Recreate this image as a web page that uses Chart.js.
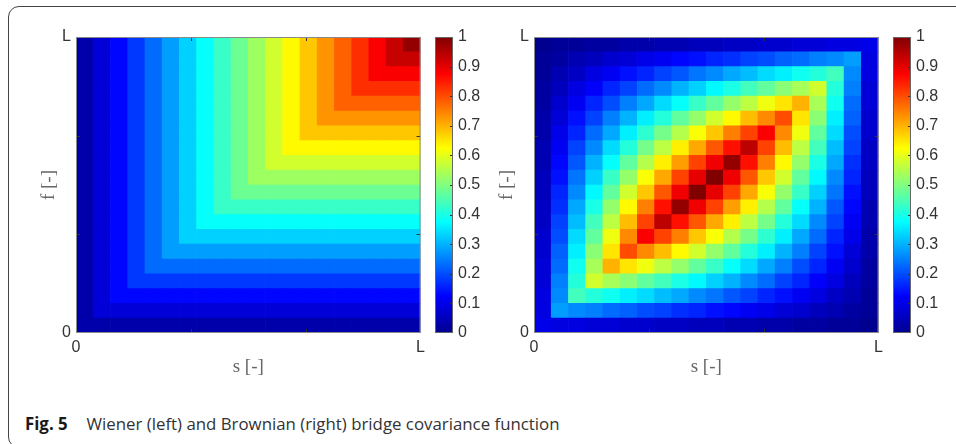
<!DOCTYPE html>
<html>
<head>
<meta charset="utf-8">
<title>Wiener and Brownian bridge covariance</title>
<script src="https://cdn.jsdelivr.net/npm/chart.js@4.4.0/dist/chart.umd.min.js"></script>
<style>
	body { margin: 0; width: 956px; height: 444px; overflow: hidden; background: #fff; position: relative; }
	.frame { position: absolute; left: 8px; top: 6px; width: 1000px; height: 440px; border: 1.5px solid #444; border-radius: 11px; }
	canvas { position: absolute; top: 0; }
	.caption { position: absolute; left: 25px; top: 414px; line-height: 20px; font-family: "Open Sans", sans-serif; font-size: 17px; color: #333; white-space: nowrap; transform: scaleX(0.99); transform-origin: left center; }
	.caption b { color: #1a1a1a; margin-right: 19px; }
</style>
</head>
<body>
<div class="frame"></div>
<canvas id="wienerMap" width="430" height="400" style="left:0px"></canvas>
<canvas id="wienerBar" width="85" height="400" style="left:400px"></canvas>
<canvas id="bridgeMap" width="430" height="400" style="left:458px"></canvas>
<canvas id="bridgeBar" width="85" height="400" style="left:858px"></canvas>
<div class="caption"><b>Fig. 5</b>Wiener (left) and Brownian (right) bridge covariance function</div>

<script>
// cell edges along s and t, as fractions of L
const gridEdges = [0, 0.05, 0.1, 0.15, 0.2, 0.25, 0.3, 0.35, 0.4, 0.45, 0.5, 0.55, 0.6, 0.65, 0.7, 0.75, 0.8, 0.85, 0.9, 0.95, 1];
const axisTicks = [0, 1 / 3, 2 / 3, 1];
const axisTickLabels = ["0", "", "", "L"];
const colorTicks = [0, 0.1, 0.2, 0.3, 0.4, 0.5, 0.6, 0.7, 0.8, 0.9, 1];

// rows run from t = 0 (bottom) up to t = L, columns from s = 0 to s = L
const wienerValues = [
	[0.03, 0.03, 0.03, 0.03, 0.03, 0.03, 0.03, 0.03, 0.03, 0.03, 0.03, 0.03, 0.03, 0.03, 0.03, 0.03, 0.03, 0.03, 0.03, 0.03],
	[0.03, 0.08, 0.08, 0.08, 0.08, 0.08, 0.08, 0.08, 0.08, 0.08, 0.08, 0.08, 0.08, 0.08, 0.08, 0.08, 0.08, 0.08, 0.08, 0.08],
	[0.03, 0.08, 0.13, 0.13, 0.13, 0.13, 0.13, 0.13, 0.13, 0.13, 0.13, 0.13, 0.13, 0.13, 0.13, 0.13, 0.13, 0.13, 0.13, 0.13],
	[0.03, 0.08, 0.13, 0.18, 0.18, 0.18, 0.18, 0.18, 0.18, 0.18, 0.18, 0.18, 0.18, 0.18, 0.18, 0.18, 0.18, 0.18, 0.18, 0.18],
	[0.03, 0.08, 0.13, 0.18, 0.23, 0.23, 0.23, 0.23, 0.23, 0.23, 0.23, 0.23, 0.23, 0.23, 0.23, 0.23, 0.23, 0.23, 0.23, 0.23],
	[0.03, 0.08, 0.13, 0.18, 0.23, 0.28, 0.28, 0.28, 0.28, 0.28, 0.28, 0.28, 0.28, 0.28, 0.28, 0.28, 0.28, 0.28, 0.28, 0.28],
	[0.03, 0.08, 0.13, 0.18, 0.23, 0.28, 0.33, 0.33, 0.33, 0.33, 0.33, 0.33, 0.33, 0.33, 0.33, 0.33, 0.33, 0.33, 0.33, 0.33],
	[0.03, 0.08, 0.13, 0.18, 0.23, 0.28, 0.33, 0.38, 0.38, 0.38, 0.38, 0.38, 0.38, 0.38, 0.38, 0.38, 0.38, 0.38, 0.38, 0.38],
	[0.03, 0.08, 0.13, 0.18, 0.23, 0.28, 0.33, 0.38, 0.43, 0.43, 0.43, 0.43, 0.43, 0.43, 0.43, 0.43, 0.43, 0.43, 0.43, 0.43],
	[0.03, 0.08, 0.13, 0.18, 0.23, 0.28, 0.33, 0.38, 0.43, 0.48, 0.48, 0.48, 0.48, 0.48, 0.48, 0.48, 0.48, 0.48, 0.48, 0.48],
	[0.03, 0.08, 0.13, 0.18, 0.23, 0.28, 0.33, 0.38, 0.43, 0.48, 0.53, 0.53, 0.53, 0.53, 0.53, 0.53, 0.53, 0.53, 0.53, 0.53],
	[0.03, 0.08, 0.13, 0.18, 0.23, 0.28, 0.33, 0.38, 0.43, 0.48, 0.53, 0.58, 0.58, 0.58, 0.58, 0.58, 0.58, 0.58, 0.58, 0.58],
	[0.03, 0.08, 0.13, 0.18, 0.23, 0.28, 0.33, 0.38, 0.43, 0.48, 0.53, 0.58, 0.63, 0.63, 0.63, 0.63, 0.63, 0.63, 0.63, 0.63],
	[0.03, 0.08, 0.13, 0.18, 0.23, 0.28, 0.33, 0.38, 0.43, 0.48, 0.53, 0.58, 0.63, 0.68, 0.68, 0.68, 0.68, 0.68, 0.68, 0.68],
	[0.03, 0.08, 0.13, 0.18, 0.23, 0.28, 0.33, 0.38, 0.43, 0.48, 0.53, 0.58, 0.63, 0.68, 0.73, 0.73, 0.73, 0.73, 0.73, 0.73],
	[0.03, 0.08, 0.13, 0.18, 0.23, 0.28, 0.33, 0.38, 0.43, 0.48, 0.53, 0.58, 0.63, 0.68, 0.73, 0.78, 0.78, 0.78, 0.78, 0.78],
	[0.03, 0.08, 0.13, 0.18, 0.23, 0.28, 0.33, 0.38, 0.43, 0.48, 0.53, 0.58, 0.63, 0.68, 0.73, 0.78, 0.83, 0.83, 0.83, 0.83],
	[0.03, 0.08, 0.13, 0.18, 0.23, 0.28, 0.33, 0.38, 0.43, 0.48, 0.53, 0.58, 0.63, 0.68, 0.73, 0.78, 0.83, 0.88, 0.88, 0.88],
	[0.03, 0.08, 0.13, 0.18, 0.23, 0.28, 0.33, 0.38, 0.43, 0.48, 0.53, 0.58, 0.63, 0.68, 0.73, 0.78, 0.83, 0.88, 0.93, 0.93],
	[0.03, 0.08, 0.13, 0.18, 0.23, 0.28, 0.33, 0.38, 0.43, 0.48, 0.53, 0.58, 0.63, 0.68, 0.73, 0.78, 0.83, 0.88, 0.93, 0.98]
];

const bridgeValues = [
	[0.10, 0.09, 0.09, 0.08, 0.08, 0.07, 0.07, 0.06, 0.06, 0.05, 0.05, 0.04, 0.04, 0.03, 0.03, 0.02, 0.02, 0.01, 0.01, 0.00],
	[0.09, 0.28, 0.26, 0.25, 0.23, 0.22, 0.20, 0.19, 0.17, 0.16, 0.14, 0.13, 0.11, 0.10, 0.08, 0.07, 0.05, 0.04, 0.02, 0.01],
	[0.09, 0.26, 0.44, 0.41, 0.39, 0.36, 0.34, 0.31, 0.29, 0.26, 0.24, 0.21, 0.19, 0.16, 0.14, 0.11, 0.09, 0.06, 0.04, 0.01],
	[0.08, 0.25, 0.41, 0.58, 0.54, 0.51, 0.47, 0.44, 0.40, 0.37, 0.33, 0.30, 0.26, 0.23, 0.19, 0.16, 0.12, 0.09, 0.05, 0.02],
	[0.08, 0.23, 0.39, 0.54, 0.70, 0.65, 0.61, 0.56, 0.52, 0.47, 0.43, 0.38, 0.34, 0.29, 0.25, 0.20, 0.16, 0.11, 0.07, 0.02],
	[0.07, 0.22, 0.36, 0.51, 0.65, 0.80, 0.74, 0.69, 0.63, 0.58, 0.52, 0.47, 0.41, 0.36, 0.30, 0.25, 0.19, 0.14, 0.08, 0.03],
	[0.07, 0.20, 0.34, 0.47, 0.61, 0.74, 0.88, 0.81, 0.75, 0.68, 0.62, 0.55, 0.49, 0.42, 0.36, 0.29, 0.23, 0.16, 0.10, 0.03],
	[0.06, 0.19, 0.31, 0.44, 0.56, 0.69, 0.81, 0.94, 0.86, 0.79, 0.71, 0.64, 0.56, 0.49, 0.41, 0.34, 0.26, 0.19, 0.11, 0.04],
	[0.06, 0.17, 0.29, 0.40, 0.52, 0.63, 0.75, 0.86, 0.98, 0.89, 0.81, 0.72, 0.64, 0.55, 0.47, 0.38, 0.30, 0.21, 0.13, 0.04],
	[0.05, 0.16, 0.26, 0.37, 0.47, 0.58, 0.68, 0.79, 0.89, 1.00, 0.90, 0.81, 0.71, 0.62, 0.52, 0.43, 0.33, 0.24, 0.14, 0.05],
	[0.05, 0.14, 0.24, 0.33, 0.43, 0.52, 0.62, 0.71, 0.81, 0.90, 1.00, 0.89, 0.79, 0.68, 0.58, 0.47, 0.37, 0.26, 0.16, 0.05],
	[0.04, 0.13, 0.21, 0.30, 0.38, 0.47, 0.55, 0.64, 0.72, 0.81, 0.89, 0.98, 0.86, 0.75, 0.63, 0.52, 0.40, 0.29, 0.17, 0.06],
	[0.04, 0.11, 0.19, 0.26, 0.34, 0.41, 0.49, 0.56, 0.64, 0.71, 0.79, 0.86, 0.94, 0.81, 0.69, 0.56, 0.44, 0.31, 0.19, 0.06],
	[0.03, 0.10, 0.16, 0.23, 0.29, 0.36, 0.42, 0.49, 0.55, 0.62, 0.68, 0.75, 0.81, 0.88, 0.74, 0.61, 0.47, 0.34, 0.20, 0.07],
	[0.03, 0.08, 0.14, 0.19, 0.25, 0.30, 0.36, 0.41, 0.47, 0.52, 0.58, 0.63, 0.69, 0.74, 0.80, 0.65, 0.51, 0.36, 0.22, 0.07],
	[0.02, 0.07, 0.11, 0.16, 0.20, 0.25, 0.29, 0.34, 0.38, 0.43, 0.47, 0.52, 0.56, 0.61, 0.65, 0.70, 0.54, 0.39, 0.23, 0.08],
	[0.02, 0.05, 0.09, 0.12, 0.16, 0.19, 0.23, 0.26, 0.30, 0.33, 0.37, 0.40, 0.44, 0.47, 0.51, 0.54, 0.58, 0.41, 0.25, 0.08],
	[0.01, 0.04, 0.06, 0.09, 0.11, 0.14, 0.16, 0.19, 0.21, 0.24, 0.26, 0.29, 0.31, 0.34, 0.36, 0.39, 0.41, 0.44, 0.26, 0.09],
	[0.01, 0.02, 0.04, 0.05, 0.07, 0.08, 0.10, 0.11, 0.13, 0.14, 0.16, 0.17, 0.19, 0.20, 0.22, 0.23, 0.25, 0.26, 0.28, 0.09],
	[0.00, 0.01, 0.01, 0.02, 0.02, 0.03, 0.03, 0.04, 0.04, 0.05, 0.05, 0.06, 0.06, 0.07, 0.07, 0.08, 0.08, 0.09, 0.09, 0.10]
];

// MATLAB style jet colormap
const jetStops = [
	[0, [0, 0, 143]],
	[0.125, [0, 0, 255]],
	[0.375, [0, 255, 255]],
	[0.625, [255, 255, 0]],
	[0.875, [255, 0, 0]],
	[1, [128, 0, 0]]
];

function jet(v) {
	for (let k = 1; k < jetStops.length; k++) {
		const [p1, c1] = jetStops[k];
		if (v <= p1 || k === jetStops.length - 1) {
			const [p0, c0] = jetStops[k - 1];
			const f = Math.min(1, Math.max(0, (v - p0) / (p1 - p0)));
			const c = c0.map((a, n) => Math.round(a + (c1[n] - a) * f));
			return `rgb(${c[0]}, ${c[1]}, ${c[2]})`;
		}
	}
}

Chart.defaults.font.family = "'Liberation Sans', Arial, sans-serif";
Chart.defaults.color = "#333";

const tickFont = { family: "'Liberation Sans', Arial, sans-serif", size: 16 };
const titleFont = { family: "'Liberation Serif', 'Times New Roman', serif", size: 19 };

// box round the map plus the short inward tick marks
const mapFrame = {
	id: "mapFrame",
	afterDatasetsDraw(chart) {
		const { ctx, chartArea: a, scales } = chart;
		ctx.save();
		ctx.strokeStyle = "#333";
		ctx.lineWidth = 1;
		ctx.beginPath();
		axisTicks.slice(1, -1).forEach((t) => {
			const x = Math.round(scales.x.getPixelForValue(t)) + 0.5;
			const y = Math.round(scales.y.getPixelForValue(t)) + 0.5;
			ctx.moveTo(x, a.bottom); ctx.lineTo(x, a.bottom - 4);
			ctx.moveTo(x, a.top); ctx.lineTo(x, a.top + 4);
			ctx.moveTo(a.left, y); ctx.lineTo(a.left + 4, y);
			ctx.moveTo(a.right, y); ctx.lineTo(a.right - 4, y);
		});
		ctx.stroke();
		ctx.strokeStyle = "#8a8a8a";
		ctx.strokeRect(a.left + 0.5, a.top + 0.5, a.right - a.left - 1, a.bottom - a.top - 1);
		ctx.restore();
	}
};

const barFrame = {
	id: "barFrame",
	afterDatasetsDraw(chart) {
		const { ctx, chartArea: a, scales } = chart;
		ctx.save();
		ctx.strokeStyle = "#333";
		ctx.lineWidth = 1;
		ctx.beginPath();
		colorTicks.slice(1, -1).forEach((t) => {
			const y = Math.round(scales.y.getPixelForValue(t)) + 0.5;
			ctx.moveTo(a.right, y); ctx.lineTo(a.right - 3, y);
		});
		ctx.stroke();
		ctx.strokeStyle = "#666";
		ctx.strokeRect(a.left + 0.5, a.top + 0.5, a.right - a.left - 1, a.bottom - a.top - 1);
		ctx.restore();
	}
};

function heatmapDatasets(values) {
	return values.map((row, j) => ({
		data: row.map((v, i) => ({
			x: (gridEdges[i] + gridEdges[i + 1]) / 2,
			y: [gridEdges[j], gridEdges[j + 1]]
		})),
		backgroundColor: row.map(jet),
		borderWidth: 0,
		grouped: false,
		barPercentage: 1,
		categoryPercentage: 1
	}));
}

function drawMap(id, values) {
	return new Chart(document.getElementById(id), {
		type: "bar",
		data: { datasets: heatmapDatasets(values) },
		options: {
			responsive: false,
			animation: false,
			layout: { padding: { left: 0, right: 8, top: 37, bottom: 0 } },
			plugins: { legend: { display: false }, tooltip: { enabled: false } },
			scales: {
				x: {
					type: "linear",
					min: 0,
					max: 1,
					offset: false,
					afterBuildTicks: (s) => { s.ticks = axisTicks.map((v) => ({ value: v })); },
					afterFit: (s) => { s.height = 67; },
					grid: { display: false, drawTicks: false },
					border: { display: false },
					ticks: {
						autoSkip: false,
						maxRotation: 0,
						padding: 5,
						color: "#333",
						font: tickFont,
						callback: (v, i) => axisTickLabels[i]
					},
					title: {
						display: true,
						text: "s [-]",
						color: "#666",
						font: titleFont,
						padding: { top: 0, bottom: 22 }
					}
				},
				y: {
					type: "linear",
					min: 0,
					max: 1,
					afterBuildTicks: (s) => { s.ticks = axisTicks.map((v) => ({ value: v })); },
					afterFit: (s) => { s.width = 76; },
					grid: { display: false, drawTicks: false },
					border: { display: false },
					ticks: {
						autoSkip: false,
						padding: 5,
						color: "#333",
						font: tickFont,
						callback: (v, i) => axisTickLabels[i]
					},
					title: {
						display: true,
						text: "f [-]",
						color: "#666",
						font: titleFont,
						padding: { top: 38, bottom: 0 }
					}
				}
			}
		},
		plugins: [mapFrame]
	});
}

function jetGradient(context) {
	const area = context.chart.chartArea;
	if (!area) return null;
	const g = context.chart.ctx.createLinearGradient(0, area.bottom, 0, area.top);
	jetStops.forEach(([p, c]) => g.addColorStop(p, `rgb(${c[0]}, ${c[1]}, ${c[2]})`));
	return g;
}

function drawColorbar(id) {
	return new Chart(document.getElementById(id), {
		type: "bar",
		data: {
			labels: [""],
			datasets: [{
				data: [[0, 1]],
				backgroundColor: jetGradient,
				borderWidth: 0,
				barPercentage: 1,
				categoryPercentage: 1
			}]
		},
		options: {
			responsive: false,
			animation: false,
			layout: { padding: { left: 35, right: 0, top: 37, bottom: 67 } },
			plugins: { legend: { display: false }, tooltip: { enabled: false } },
			scales: {
				x: { display: false },
				y: {
					position: "right",
					min: 0,
					max: 1,
					afterBuildTicks: (s) => { s.ticks = colorTicks.map((v) => ({ value: v })); },
					afterFit: (s) => { s.width = 32; },
					grid: { display: false, drawTicks: false },
					border: { display: false },
					ticks: {
						autoSkip: false,
						padding: 5,
						color: "#333",
						font: tickFont,
						callback: (v) => String(+v.toFixed(1))
					}
				}
			}
		},
		plugins: [barFrame]
	});
}

drawMap("wienerMap", wienerValues);
drawColorbar("wienerBar");
drawMap("bridgeMap", bridgeValues);
drawColorbar("bridgeBar");
</script>
</body>
</html>
